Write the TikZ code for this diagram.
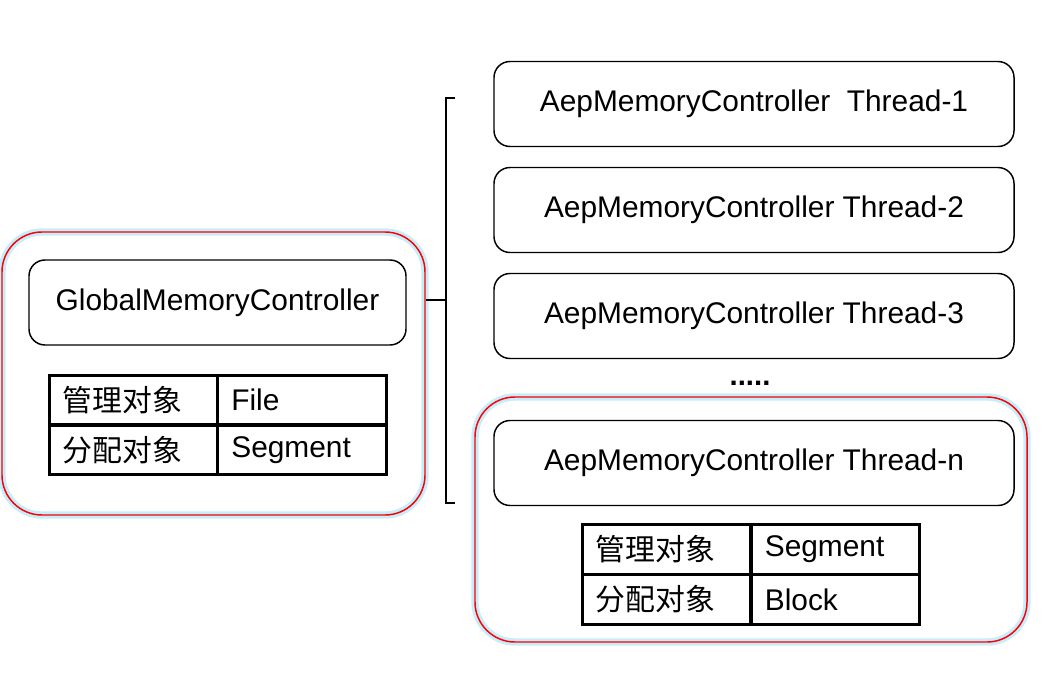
\documentclass[tikz,border=0pt]{standalone}
\usepackage{fontspec}
\setmainfont{Liberation Sans}
\newfontfamily\cjk{Noto Sans CJK SC}
\usetikzlibrary{positioning}

\begin{document}
\begin{tikzpicture}[
    x=0.75pt, y=-0.75pt,
    font=\fontsize{22.4}{26}\selectfont,
    ctrl/.style={draw, line width=1.1pt, rounded corners=12pt, minimum height=63.75pt},
    thread/.style={ctrl, minimum width=390pt},
    outer/.style={draw=red, line width=1.1pt, rounded corners=30pt,
                  preaction={draw=cyan!22, line width=5.5pt}},
    cell/.style={draw, line width=2.2pt, minimum width=126.4pt, minimum height=37.1pt,
                 text width=106pt, align=left, inner xsep=10pt},
    brk/.style={line width=1.9pt},
]
\useasboundingbox (0,0) rectangle (1055,674);

% outer boxes
\node[outer, minimum width=317.25pt, minimum height=212.25pt] (gouter) at (213.5,373.5) {};
\node[outer, minimum width=414pt, minimum height=183.75pt] (touter) at (751,519.5) {};

% global controller
\node[ctrl, minimum width=282.75pt] (gmc) at (217.5,302.5) {GlobalMemoryController};
\node[cell] (g11) at (133.5,400) {\cjk 管理对象};
\node[cell] (g12) at (302,400) {File};
\node[cell] (g21) at (133.5,450) {\cjk 分配对象};
\node[cell] (g22) at (302,450) {Segment};

% thread controllers
\node[thread] (t1) at (754,104) {AepMemoryController\ \ Thread-1};
\node[thread] (t2) at (754,210) {AepMemoryController Thread-2};
\node[thread] (t3) at (754,316) {AepMemoryController Thread-3};
\node[font=\fontsize{22}{26}\bfseries] (dots) at (750,383) {.....};
\node[thread] (tn) at (754,463) {AepMemoryController Thread-n};
\node[cell] (n11) at (666.5,549.5) {\cjk 管理对象};
\node[cell] (n12) at (835.5,549.5) {Segment};
\node[cell] (n21) at (666.5,599.5) {\cjk 分配对象};
\node[cell] (n22) at (835.5,599.5) {Block};

% bracket
\coordinate (btop) at (455,98);
\coordinate (bbot) at (455,503);
\coordinate (bmid) at (446,300);
\draw[brk] (btop) -- ++(-9,0) -- ++(0,405) -- (bbot);
\draw[brk] (gouter.east |- bmid) -- (bmid);

\end{tikzpicture}
\end{document}
